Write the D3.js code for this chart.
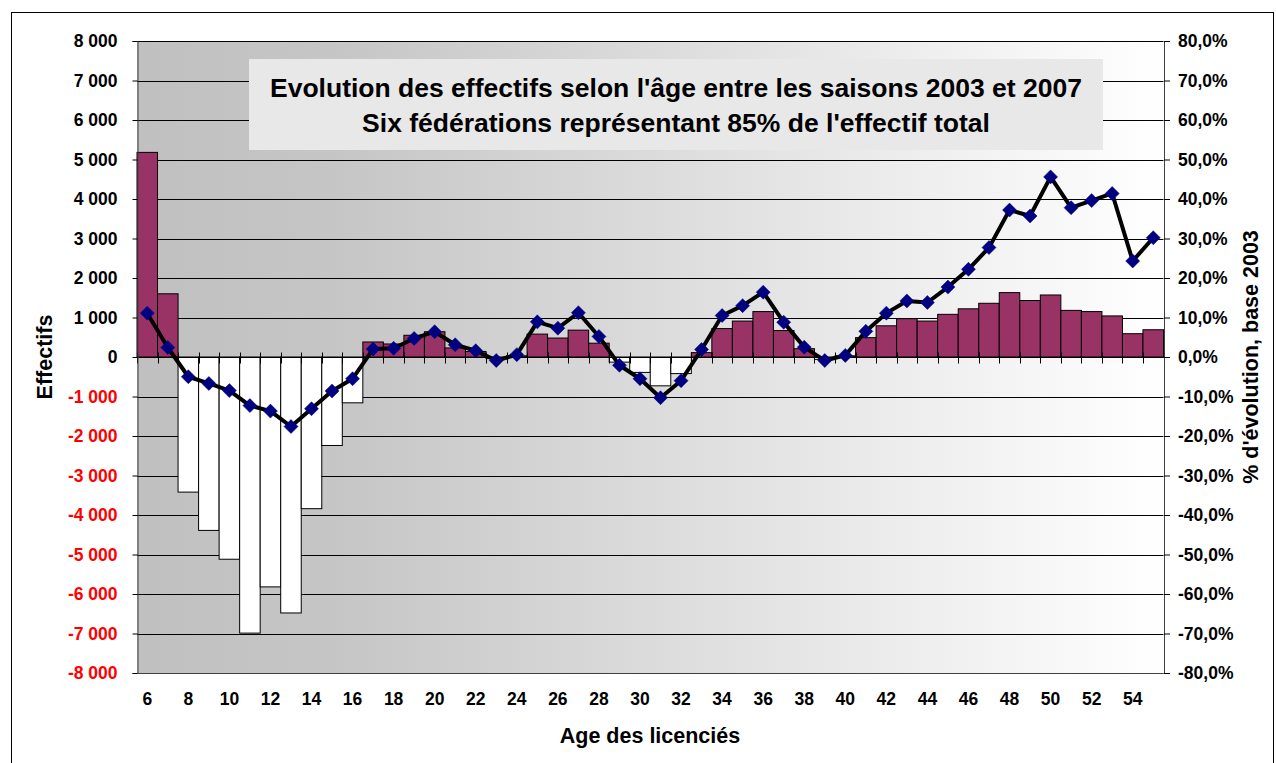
<!DOCTYPE html>
<html>
<head>
<meta charset="utf-8">
<script src="https://cdn.jsdelivr.net/npm/d3@7"></script>
<style>
  html, body { margin: 0; padding: 0; background: #ffffff; }
  svg { display: block; font-family: "Liberation Sans", Arial, sans-serif; }
</style>
</head>
<body>
<svg id="chart" width="1276" height="763"></svg>
<script>
// ---- Data ----
const ages = [6,7,8,9,10,11,12,13,14,15,16,17,18,19,20,21,22,23,24,25,26,27,28,29,30,
              31,32,33,34,35,36,37,38,39,40,41,42,43,44,45,46,47,48,49,50,51,52,53,54,55];
const effectifs = [5180,1600,-3420,-4390,-5120,-6990,-5820,-6480,-3840,-2240,-1160,380,330,550,640,230,140,-40,30,580,
                   480,680,350,-130,-390,-730,-420,110,720,910,1150,670,210,-60,30,490,790,970,910,1080,
                   1220,1360,1630,1430,1570,1180,1150,1040,590,690];
const evolution = [11.1,2.4,-5.0,-6.7,-8.5,-12.3,-13.7,-17.6,-13.1,-8.6,-5.5,2.0,2.2,4.7,6.4,3.1,1.6,-0.9,0.6,8.9,
                   7.3,11.2,5.2,-2.1,-5.5,-10.3,-6.0,1.9,10.5,13.0,16.4,8.8,2.5,-0.9,0.4,6.5,11.1,14.2,13.8,17.7,
                   22.2,27.7,37.2,35.7,45.6,37.8,39.6,41.4,24.3,30.2];
const leftTicks = [-8000,-7000,-6000,-5000,-4000,-3000,-2000,-1000,0,1000,2000,3000,4000,5000,6000,7000,8000];
const rightTicks = [-0.8,-0.7,-0.6,-0.5,-0.4,-0.3,-0.2,-0.1,0,0.1,0.2,0.3,0.4,0.5,0.6,0.7,0.8];
const xTickLabels = [6,8,10,12,14,16,18,20,22,24,26,28,30,32,34,36,38,40,42,44,46,48,50,52,54];
const titleLines = ["Evolution des effectifs selon l'âge entre les saisons 2003 et 2007",
                    "Six fédérations représentant 85% de l'effectif total"];
const xTitle = "Age des licenciés";
const yLeftTitle = "Effectifs";
const yRightTitle = "% d'évolution, base 2003";

// ---- Layout ----
const svg = d3.select("#chart");
const L = 137, R = 1163.5, T = 41, B = 673;
const FONT = "Liberation Sans, Arial, sans-serif";
const TICK_FS = 17.5;

const x = d3.scaleBand().domain(ages).range([L, R]).padding(0);
const y = d3.scaleLinear().domain([-8000, 8000]).range([B, T]);
const y2 = d3.scaleLinear().domain([-0.8, 0.8]).range([B, T]);

const loc = d3.formatLocale({decimal: ",", thousands: " ", grouping: [3], currency: ["", ""], minus: "-"});
const fmtLeft = loc.format(",d");
const fmtRight = loc.format(".1%");

// outer border
svg.append("rect").attr("x", 11.5).attr("y", 12.5).attr("width", 1262).attr("height", 800)
  .attr("fill", "none").attr("stroke", "#000").attr("stroke-width", 1);

// background gradient
const defs = svg.append("defs");
const grad = defs.append("linearGradient").attr("id", "bg").attr("x1", "0").attr("x2", "1").attr("y1", "0").attr("y2", "0");
grad.append("stop").attr("offset", "0").attr("stop-color", "#c0c0c0");
grad.append("stop").attr("offset", "0.2").attr("stop-color", "#c6c6c6");
grad.append("stop").attr("offset", "1").attr("stop-color", "#ffffff");
svg.append("rect").attr("x", L).attr("y", T).attr("width", R - L).attr("height", B - T).attr("fill", "url(#bg)");

// gridlines
svg.append("g").selectAll("line").data(leftTicks).join("line")
  .attr("x1", L).attr("x2", R).attr("y1", d => Math.round(y(d)) + 0.5).attr("y2", d => Math.round(y(d)) + 0.5)
  .attr("stroke", "#000").attr("stroke-width", 1);

// bars
const rows = ages.map((a, i) => ({age: a, v: effectifs[i], p: evolution[i] / 100}));
svg.append("g").selectAll("rect").data(rows).join("rect")
  .attr("x", d => x(d.age))
  .attr("width", x.bandwidth())
  .attr("y", d => d.v >= 0 ? y(d.v) : y(0))
  .attr("height", d => Math.abs(y(d.v) - y(0)))
  .attr("fill", d => d.v >= 0 ? "#993366" : "#ffffff")
  .attr("stroke", "#000").attr("stroke-width", 1);

// zero line (category axis) with crossing ticks at category boundaries
const y0 = Math.round(y(0)) + 0.5;
svg.append("line").attr("x1", L).attr("x2", R).attr("y1", y0).attr("y2", y0).attr("stroke", "#000");
svg.append("g").selectAll("line").data(ages.concat([null])).join("line")
  .attr("x1", (d, i) => Math.round(i < ages.length ? x(d) : R) + 0.5)
  .attr("x2", (d, i) => Math.round(i < ages.length ? x(d) : R) + 0.5)
  .attr("y1", y0 - 5).attr("y2", y0 + 6)
  .attr("stroke", "#000");

// left axis
const gL = svg.append("g").attr("transform", `translate(${L + 0.5},0)`)
  .call(d3.axisLeft(y).tickValues(leftTicks).tickFormat(fmtLeft).tickSize(5).tickPadding(15));
gL.select(".domain").attr("stroke", "#404040");
gL.selectAll(".tick line").attr("stroke", "#000");
gL.selectAll(".tick text").attr("font-size", TICK_FS).attr("font-weight", "bold")
  .attr("fill", d => d < 0 ? "#ff0000" : "#000").attr("font-family", FONT);

// right axis
const gR = svg.append("g").attr("transform", `translate(${R + 0.5},0)`)
  .call(d3.axisRight(y2).tickValues(rightTicks).tickFormat(fmtRight).tickSize(6).tickPadding(8));
gR.select(".domain").attr("stroke", "#404040");
gR.selectAll(".tick line").attr("stroke", "#000");
gR.selectAll(".tick text").attr("font-size", TICK_FS).attr("font-weight", "bold").attr("fill", "#000")
  .attr("font-family", FONT);

// bottom border of plot
svg.append("line").attr("x1", L).attr("x2", R).attr("y1", B + 0.5).attr("y2", B + 0.5).attr("stroke", "#404040");

// x tick labels
const gX = svg.append("g").attr("transform", `translate(0,${B})`)
  .call(d3.axisBottom(x).tickValues(xTickLabels).tickSize(0).tickPadding(19.5));
gX.select(".domain").remove();
gX.selectAll(".tick text").attr("font-size", TICK_FS).attr("font-weight", "bold").attr("fill", "#000")
  .attr("font-family", FONT);

// line + markers
const line = d3.line().x(d => x(d.age) + x.bandwidth() / 2).y(d => y2(d.p));
svg.append("path").datum(rows).attr("d", line).attr("fill", "none")
  .attr("stroke", "#000").attr("stroke-width", 4).attr("stroke-linejoin", "round");
const dm = 7;
svg.append("g").selectAll("path").data(rows).join("path")
  .attr("transform", d => `translate(${x(d.age) + x.bandwidth() / 2},${y2(d.p)})`)
  .attr("d", `M0,${-dm}L${dm},0L0,${dm}L${-dm},0Z`)
  .attr("fill", "#000080").attr("stroke", "#000080").attr("stroke-width", 0.5);

// title box
svg.append("rect").attr("x", 249).attr("y", 59).attr("width", 854).attr("height", 91).attr("fill", "#e8e8e8");
svg.append("g").selectAll("text").data(titleLines).join("text")
  .attr("x", 676).attr("y", (d, i) => 97 + i * 35)
  .attr("text-anchor", "middle").attr("font-size", 26.5).attr("font-weight", "bold").attr("fill", "#000")
  .text(d => d);

// axis titles
svg.append("text").attr("x", 650).attr("y", 743).attr("text-anchor", "middle")
  .attr("font-size", 21.5).attr("font-weight", "bold").text(xTitle);
svg.append("text").attr("transform", "translate(52,357) rotate(-90)").attr("text-anchor", "middle")
  .attr("font-size", 21.5).attr("font-weight", "bold").text(yLeftTitle);
svg.append("text").attr("transform", "translate(1258,357) rotate(-90)").attr("text-anchor", "middle")
  .attr("font-size", 21.5).attr("font-weight", "bold").text(yRightTitle);
</script>
</body>
</html>
